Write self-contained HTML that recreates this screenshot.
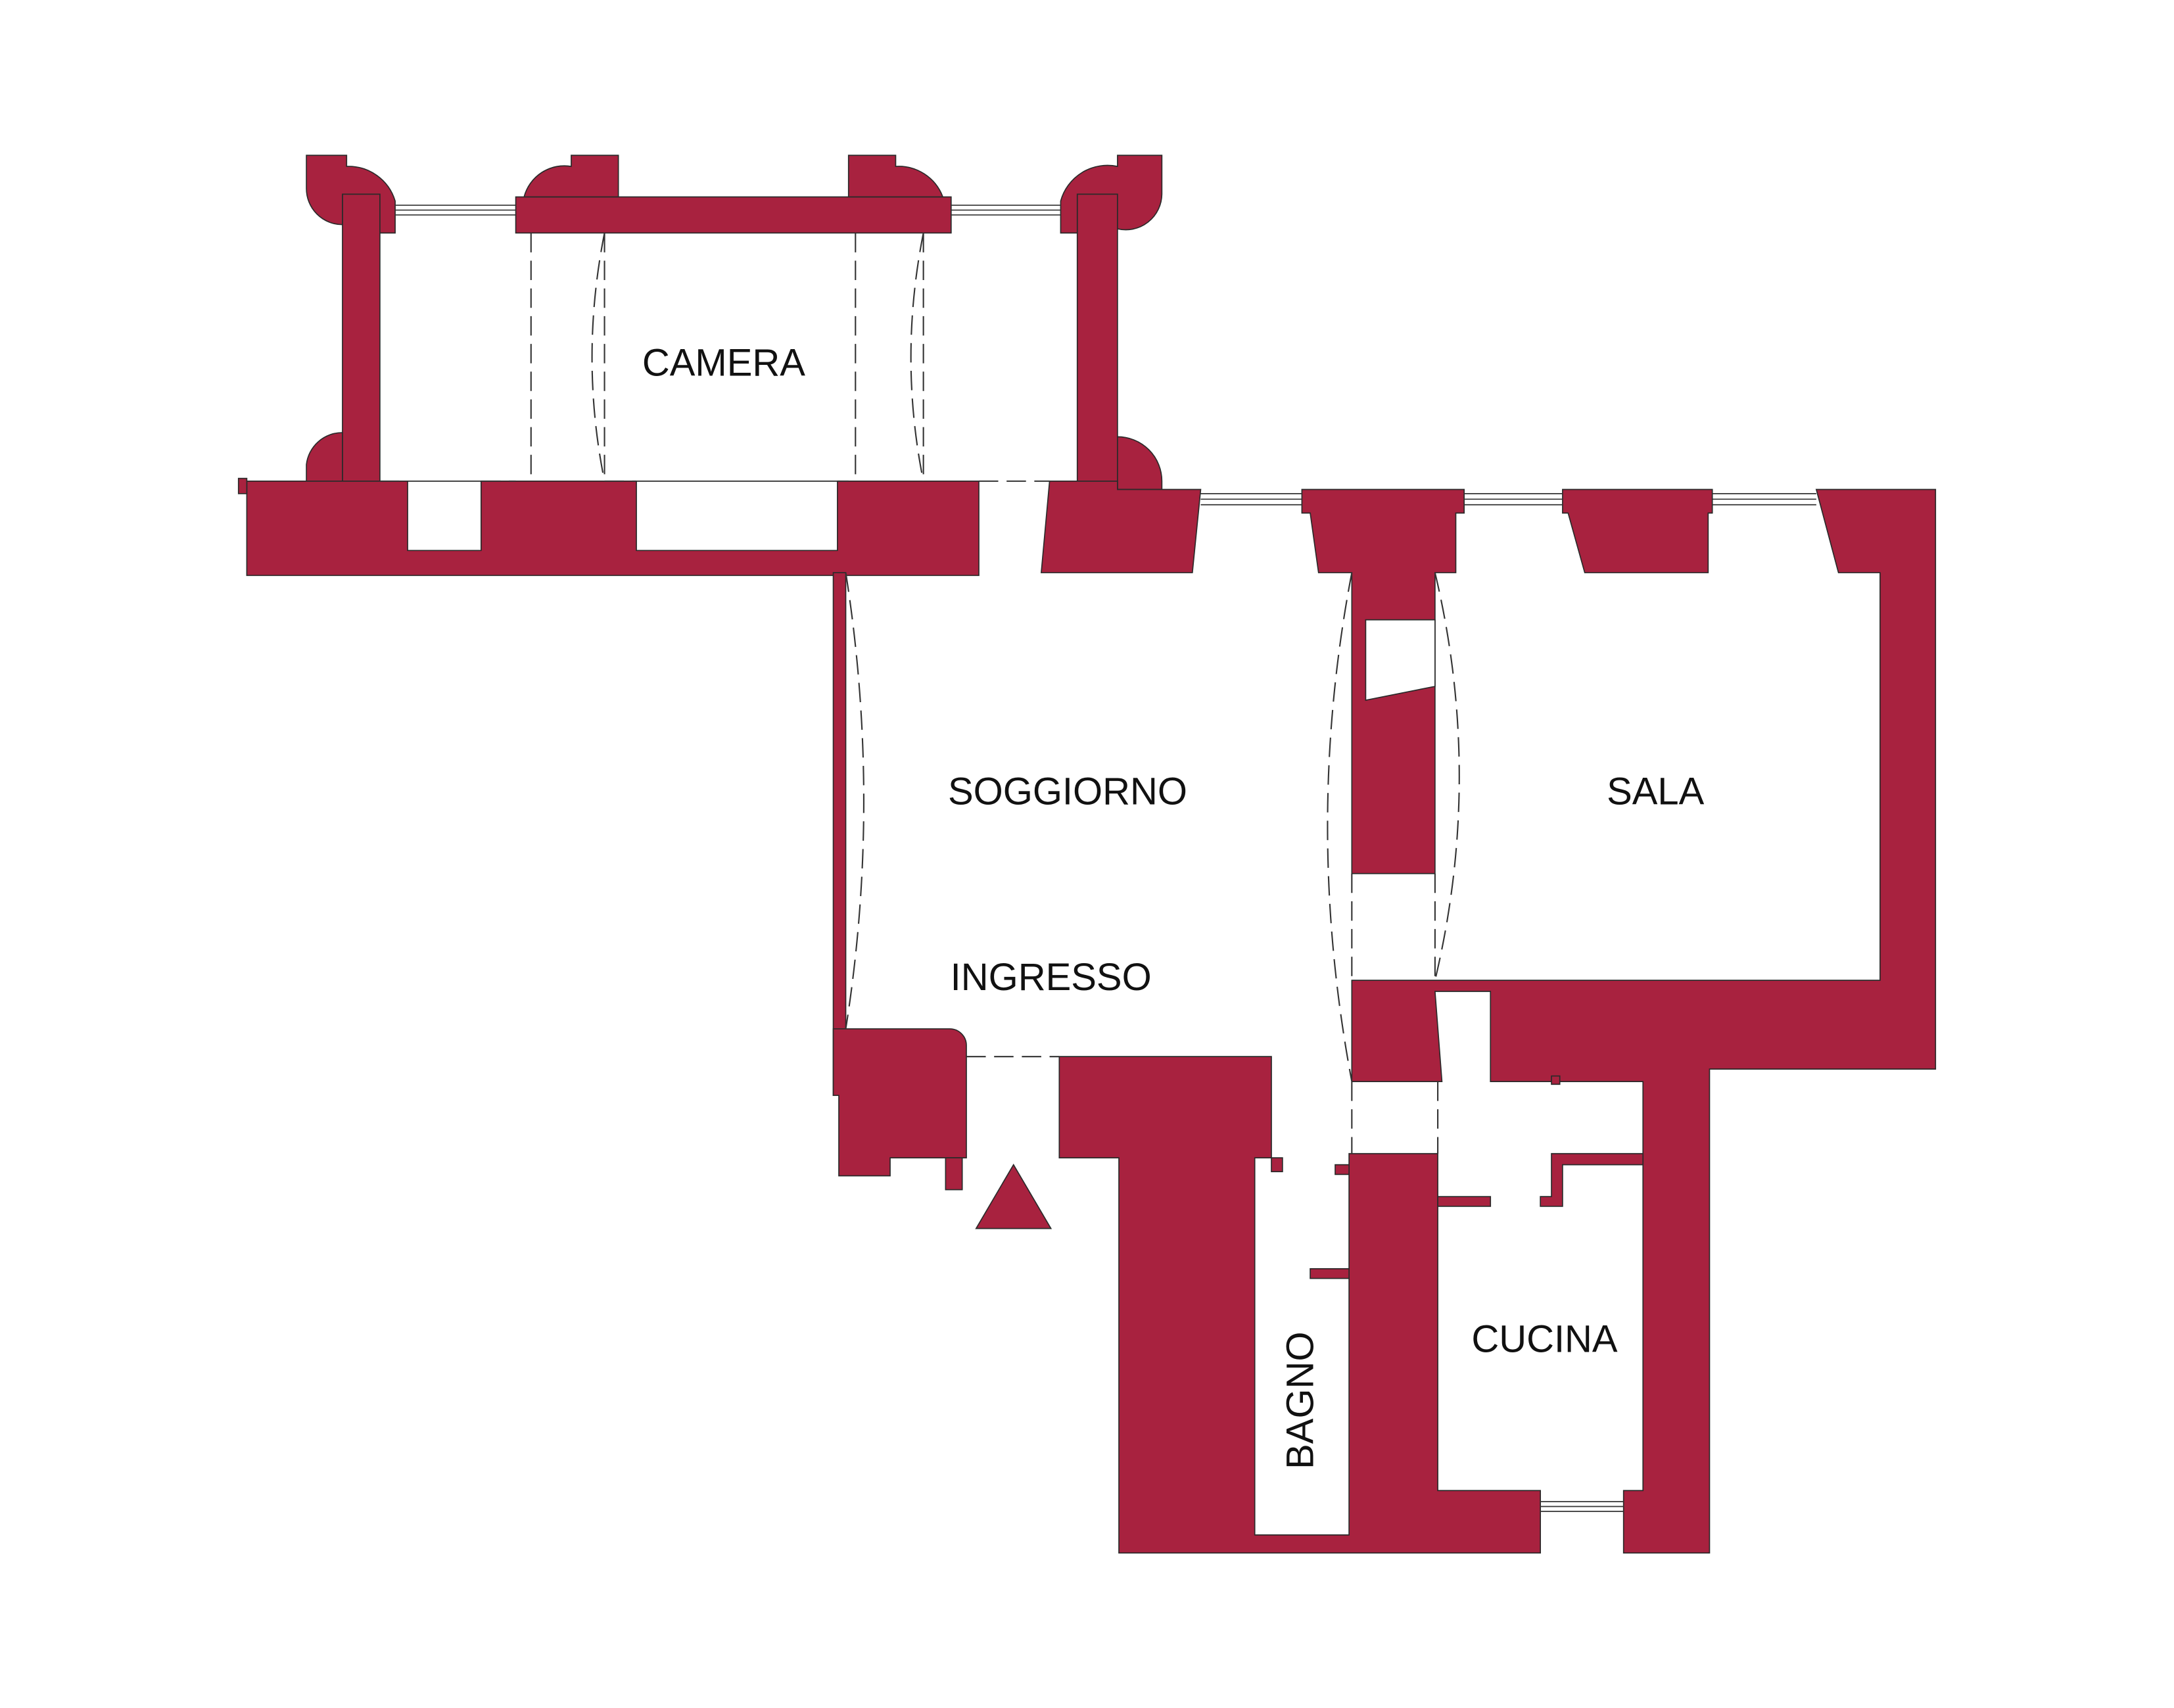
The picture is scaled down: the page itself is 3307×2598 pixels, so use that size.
<!DOCTYPE html>
<html><head><style>html,body{margin:0;padding:0;background:#fff}svg{display:block}</style></head><body>
<svg width="3307" height="2598" viewBox="0 0 1568 1231.8" xmlns="http://www.w3.org/2000/svg">
<g fill="#A8223F" stroke="#2a2a2a" stroke-width="0.8">
<rect x="372" y="142" width="314" height="26"/>
<rect x="247" y="140" width="27" height="207"/>
<rect x="777" y="140" width="29" height="207"/>
<path d="M221,112 H250 V120 A35,35 0 0 1 285,145 V168 H274 V140 H247 V162 A26,26 0 0 1 221,136 Z"/>
<path d="M378,142 A30,30 0 0 1 412,120 V112 H446 V142 Z"/>
<path d="M612,142 V112 H646 V120 A34,34 0 0 1 680,142 Z"/>
<path d="M838,112 V140 A26,26 0 0 1 806,165 V140 H777 V168 H765 V145 A35,35 0 0 1 806,120 V112 Z"/>
<path d="M221,347 V335 A26,26 0 0 1 247,312 V347 Z"/>
<path d="M806,315 A32,32 0 0 1 838,347 V353 H806 Z"/>
<path d="M178,347 H706 V415 H178 Z M294,347 V397 H347 V347 Z M459,347 V397 H604 V347 Z" fill-rule="evenodd"/>
<rect x="172" y="345" width="6" height="11"/>
<path d="M757,347 H806 V353 H866 L860,413 H751 Z"/>
<path d="M939,353 H1056 V370 H1050 V413 H1035 V630 H975 V413 H951 L945,370 H939 Z"/>
<path d="M1127,353 H1235 V370 H1232 V413 H1143 L1131,370 H1127 Z"/>
<path d="M1310,353 H1396 V771 H1233 V1120 H1171 V1075 H1185 V780 H1075 V715 H1035 L1040,780 H975 V707 H1356 V413 H1326 Z"/>
<rect x="601" y="413" width="9" height="377"/>
<path d="M601,742 H685 A12,12 0 0 1 697,754 V835 H642 V848 H605 V790 H601 Z"/>
<rect x="682" y="835" width="12" height="23"/>
<path d="M704,886 L731,840 L758,886 Z"/>
<path d="M764,762 H917 V835 H905 V1107 H973 V832 H1037 V1075 H1111 V1120 H807 V835 H764 Z"/>
<rect x="917" y="835" width="8" height="10"/>
<rect x="963" y="840" width="10" height="7"/>
<rect x="945" y="915" width="28" height="7"/>
<rect x="1037" y="863" width="38" height="7"/>
<path d="M1111,863 H1119 V832 H1185 V840 H1127 V870 H1111 Z"/>
<rect x="1119" y="776" width="6" height="6"/>
</g>
<path d="M985,447 H1035 V495 L985,505 Z" fill="#fff" stroke="#2a2a2a" stroke-width="0.8"/>
<g stroke="#333" stroke-width="0.8" fill="none">
<path d="M285,148 H372 M285,151.5 H372 M285,155 H372"/>
<path d="M686,148 H765 M686,151.5 H765 M686,155 H765"/>
<path d="M866,356 H939 M866,360 H939 M866,364 H939"/>
<path d="M1056,356 H1127 M1056,360 H1127 M1056,364 H1127"/>
<path d="M1235,356 H1310 M1235,360 H1310 M1235,364 H1310"/>
<path d="M1111,1083 H1171 M1111,1086.5 H1171 M1111,1090 H1171"/>
</g>
<g stroke="#333" stroke-width="1" fill="none" stroke-dasharray="14,6">
<path d="M383,168 V347 M436,168 V347 M617,168 V347 M666,168 V347"/>
<path d="M436,168 Q418,258 436,347 M666,168 Q648,258 666,347"/>
<path d="M274,347 H294 M347,347 H372 M436,347 H459 M604,347 H612 M706,347 H757"/>
<path d="M610,413 Q636,578 610,742"/>
<path d="M975,413 Q940,595 975,780 M1035,413 Q1070,560 1035,707"/>
<path d="M975,630 V707 M1035,630 V707 M975,780 V832 M1037,780 V832"/>
<path d="M697,762 H764"/>
</g>
<g font-family="Liberation Sans, sans-serif" font-size="27.5" fill="#111" text-anchor="middle">
<text x="522" y="271">CAMERA</text>
<text x="770" y="580">SOGGIORNO</text>
<text x="1194" y="580">SALA</text>
<text x="758" y="714">INGRESSO</text>
<text x="1114" y="975">CUCINA</text>
<text transform="translate(947,1010) rotate(-90)" x="0" y="0">BAGNO</text>
</g>
</svg>
</body></html>
